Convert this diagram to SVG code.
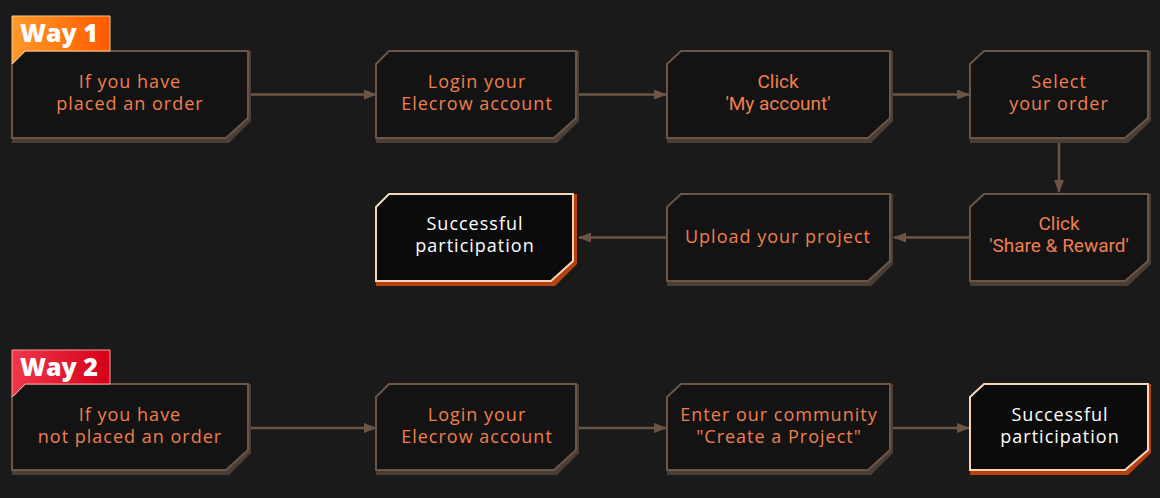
<svg xmlns="http://www.w3.org/2000/svg" width="1160" height="498" viewBox="0 0 1160 498">
<defs>
<style>
.sh{fill:#4b3e36}
.bx{fill:#131313;stroke:#6d5546;stroke-width:2}
.ssh{fill:#b8400f}
.sbx{fill:#0b0b0b;stroke:#f7d6b8;stroke-width:2}
.t{font-family:"Open Sans","Liberation Sans",sans-serif;font-size:18px;letter-spacing:1px;fill:#f07f4d;text-anchor:middle}
.r{font-family:Roboto,"Liberation Sans",sans-serif;font-size:19px;fill:#f07f4d;text-anchor:middle}
.w{font-family:"Open Sans","Liberation Sans",sans-serif;font-size:18px;letter-spacing:1px;fill:#ffffff;text-anchor:middle}
.bt{font-family:"Open Sans","Liberation Sans",sans-serif;font-size:25px;font-weight:800;fill:#ffffff}
.ln{stroke:#6d5546;stroke-width:2.5;fill:none;marker-end:url(#ah)}
</style>
<marker id="ah" viewBox="0 0 13 10" refX="12" refY="5" markerWidth="13" markerHeight="10" markerUnits="userSpaceOnUse" orient="auto">
<path d="M0,0 L13,5 L0,10 Z" fill="#6d5546"/>
</marker>
<linearGradient id="g1" x1="0" y1="0" x2="1" y2="0">
<stop offset="0" stop-color="#ff9a2a"/>
<stop offset="1" stop-color="#ff5a00"/>
</linearGradient>
<linearGradient id="g2" x1="0" y1="0" x2="1" y2="0">
<stop offset="0" stop-color="#f0384a"/>
<stop offset="1" stop-color="#d40018"/>
</linearGradient>
</defs>
<rect width="1160" height="498" fill="#1a1a1a"/>

<g id="connectors">
<line class="ln" x1="249" y1="94.5" x2="376" y2="94.5"/>
<line class="ln" x1="578" y1="94.5" x2="666" y2="94.5"/>
<line class="ln" x1="892" y1="94.5" x2="969" y2="94.5"/>
<line class="ln" x1="1059" y1="143" x2="1059" y2="192"/>
<line class="ln" x1="969" y1="237.5" x2="894" y2="237.5"/>
<line class="ln" x1="666" y1="237.5" x2="579" y2="237.5"/>
<line class="ln" x1="249" y1="428" x2="376" y2="428"/>
<line class="ln" x1="578" y1="428" x2="666" y2="428"/>
<line class="ln" x1="892" y1="428" x2="969" y2="428"/>
</g>

<g id="n1">
<polygon class="sh" points="12,64 25,51 251,51 251,121 229,143 12,143"/>
<polygon class="bx" points="12,64 25,51 248,51 248,118 226,138 12,138"/>
<text class="t" x="130" y="88">If you have</text>
<text class="t" x="130" y="110">placed an order</text>
</g>

<g id="way1">
<polygon fill="url(#g1)" stroke="#ffc48a" stroke-width="1" points="12,16 110,16 110,51 25,51 12,64"/>
<text class="bt" x="20" y="42">Way 1</text>
</g>

<g id="n2">
<polygon class="sh" points="376,64 389,51 579,51 579,121 557,143 376,143"/>
<polygon class="bx" points="376,64 389,51 576,51 576,118 554,138 376,138"/>
<text class="t" x="477" y="88">Login your</text>
<text class="t" x="477" y="110">Elecrow account</text>
</g>

<g id="n3">
<polygon class="sh" points="667,64 681,51 893,51 893,121 871,143 667,143"/>
<polygon class="bx" points="667,64 681,51 890,51 890,118 868,138 667,138"/>
<text class="r" x="778" y="88">Click</text>
<text class="r" x="778" y="110">'My account'</text>
</g>

<g id="n4">
<polygon class="sh" points="970,64 984,51 1151,51 1151,121 1128,143 970,143"/>
<polygon class="bx" points="970,64 984,51 1148,51 1148,118 1125,138 970,138"/>
<text class="t" x="1059" y="88">Select</text>
<text class="t" x="1059" y="110">your order</text>
</g>

<g id="n5">
<polygon class="sh" points="970,207 984,194 1151,194 1151,264 1128,286 970,286"/>
<polygon class="bx" points="970,207 984,194 1148,194 1148,261 1125,281 970,281"/>
<text class="r" x="1059" y="230">Click</text>
<text class="r" x="1059" y="252">'Share &amp; Reward'</text>
</g>

<g id="n6">
<polygon class="sh" points="667,207 681,194 893,194 893,264 871,286 667,286"/>
<polygon class="bx" points="667,207 681,194 890,194 890,261 868,281 667,281"/>
<text class="t" x="778" y="243">Upload your project</text>
</g>

<g id="n7">
<polygon class="ssh" points="376,207 389,194 577,194 577,264 555,286 376,286"/>
<polygon class="sbx" points="376,207 389,194 573,194 573,261 551,281 376,281"/>
<text class="w" x="475" y="230">Successful</text>
<text class="w" x="475" y="252">participation</text>
</g>

<g id="n8">
<polygon class="sh" points="12,397 25,384 251,384 251,453 229,475 12,475"/>
<polygon class="bx" points="12,397 25,384 248,384 248,450 226,470 12,470"/>
<text class="t" x="130" y="421">If you have</text>
<text class="t" x="130" y="443">not placed an order</text>
</g>

<g id="way2">
<polygon fill="url(#g2)" stroke="#ff9aa0" stroke-width="1" points="12,350 110,350 110,384 25,384 12,397"/>
<text class="bt" x="20" y="376">Way 2</text>
</g>

<g id="n9">
<polygon class="sh" points="376,397 389,384 579,384 579,453 557,475 376,475"/>
<polygon class="bx" points="376,397 389,384 576,384 576,450 554,470 376,470"/>
<text class="t" x="477" y="421">Login your</text>
<text class="t" x="477" y="443">Elecrow account</text>
</g>

<g id="n10">
<polygon class="sh" points="667,397 681,384 893,384 893,453 871,475 667,475"/>
<polygon class="bx" points="667,397 681,384 890,384 890,450 868,470 667,470"/>
<text class="t" x="779" y="421">Enter our community</text>
<text class="t" x="779" y="443">"Create a Project"</text>
</g>

<g id="n11">
<polygon class="ssh" points="970,397 984,384 1151,384 1151,453 1128,475 970,475"/>
<polygon class="sbx" points="970,397 984,384 1148,384 1148,450 1125,470 970,470"/>
<text class="w" x="1060" y="421">Successful</text>
<text class="w" x="1060" y="443">participation</text>
</g>
</svg>
